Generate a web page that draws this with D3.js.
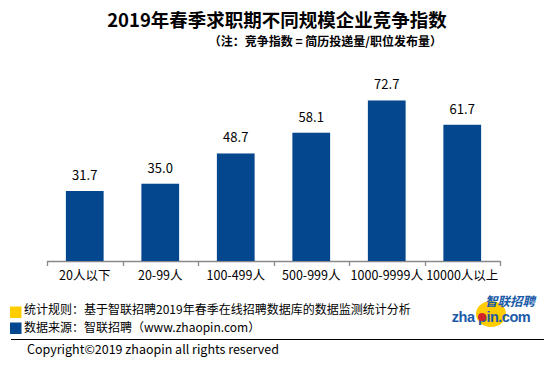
<!DOCTYPE html>
<html>
<head>
<meta charset="utf-8">
<script src="https://cdn.jsdelivr.net/npm/d3@7"></script>
<style>
body{margin:0;background:#fff;}
svg text{font-family:"Noto Sans CJK SC","Noto Sans",sans-serif;fill:#000;}
</style>
</head>
<body>
<svg id="chart" width="554" height="368"></svg>
<script>
var categories = ["20人以下","20-99人","100-499人","500-999人","1000-9999人","10000人以上"];
var values = [31.7, 35.0, 48.7, 58.1, 72.7, 61.7];
var labels = ["31.7","35.0","48.7","58.1","72.7","61.7"];

var svg = d3.select("#chart");

// 标题
svg.append("text")
   .attr("x", 277).attr("y", 27)
   .attr("text-anchor","middle")
   .style("font-size","18.5px").style("font-weight","bold")
   .text("2019年春季求职期不同规模企业竞争指数");
svg.append("text")
   .attr("x", 442).attr("y", 46)
   .attr("text-anchor","end")
   .style("font-size","12px").style("font-weight","bold")
   .text("（注：竞争指数 = 简历投递量/职位发布量）");

var x = d3.scaleBand().domain(categories).range([47, 500]).paddingInner(0.5).paddingOuter(0.25);
var y = d3.scaleLinear().domain([0, 100]).range([261, 40.2]);

var g = svg.append("g").attr("class","x axis").attr("transform","translate(0,261)");
g.append("path").attr("d","M47,0.5H500").attr("stroke","#898989").attr("stroke-width",1.3);

// ticks between categories
var edges = d3.range(categories.length + 1).map(function(i){ return 47 + i * x.step(); });
g.selectAll(".tk").data(edges).enter().append("line")
   .attr("x1", function(d){ return Math.round(d)+0.5; })
   .attr("x2", function(d){ return Math.round(d)+0.5; })
   .attr("y1", 0).attr("y2", 5)
   .attr("stroke","#898989").attr("stroke-width",1.3);

g.selectAll(".lab").data(categories).enter().append("text")
   .attr("x", function(d){ return x(d) + x.bandwidth()/2; })
   .attr("y", 19)
   .attr("text-anchor","middle")
   .style("font-size","12.5px")
   .text(function(d){ return d; });

svg.selectAll(".bar").data(values).enter().append("rect")
   .attr("class","bar")
   .attr("x", function(d,i){ return x(categories[i]); })
   .attr("width", x.bandwidth())
   .attr("y", function(d){ return y(d); })
   .attr("height", function(d){ return y(0) - y(d); })
   .attr("fill","#05478f");

svg.selectAll(".val").data(values).enter().append("text")
   .attr("x", function(d,i){ return x(categories[i]) + x.bandwidth()/2; })
   .attr("y", function(d){ return y(d) - 11; })
   .attr("text-anchor","middle")
   .style("font-size","13px")
   .text(function(d,i){ return labels[i]; });

// 图例说明
svg.append("rect").attr("x",10).attr("y",306.5).attr("width",11.5).attr("height",11.5).attr("fill","#ffcc00");
svg.append("rect").attr("x",10).attr("y",322.5).attr("width",11.5).attr("height",11.5).attr("fill","#05478f");
svg.append("text").attr("x",24).attr("y",313.5).style("font-size","12px")
   .text("统计规则：基于智联招聘2019年春季在线招聘数据库的数据监测统计分析");
svg.append("text").attr("x",24).attr("y",331.5).style("font-size","12px")
   .text("数据来源：智联招聘（www.zhaopin.com）");

svg.append("line").attr("x1",11).attr("x2",544).attr("y1",339.5).attr("y2",339.5)
   .attr("stroke","#000").attr("stroke-width",1);
svg.append("text").attr("x",27).attr("y",354).style("font-size","12.5px")
   .text("Copyright©2019 zhaopin all rights reserved");

// logo
var logo = svg.append("g");
logo.append("ellipse").attr("cx",491).attr("cy",314).attr("rx",15).attr("ry",13).attr("fill","#ffcc00");
logo.append("text").attr("x",510).attr("y",306).attr("text-anchor","middle")
   .style("font-size","12.5px").style("font-weight","bold").style("fill","#1a5aa8").style("font-style","italic")
   .text("智联招聘");
logo.append("text").attr("x",491).attr("y",322).attr("text-anchor","middle")
   .style("font-size","14.5px").style("font-weight","bold").style("fill","#1a5aa8").style("font-family","'Liberation Sans',Arial,sans-serif")
   .style("letter-spacing","-0.5px")
   .text("zha pin.com");
logo.append("circle").attr("cx",482).attr("cy",317).attr("r",4).attr("fill","#d2232a");
</script>
</body>
</html>
